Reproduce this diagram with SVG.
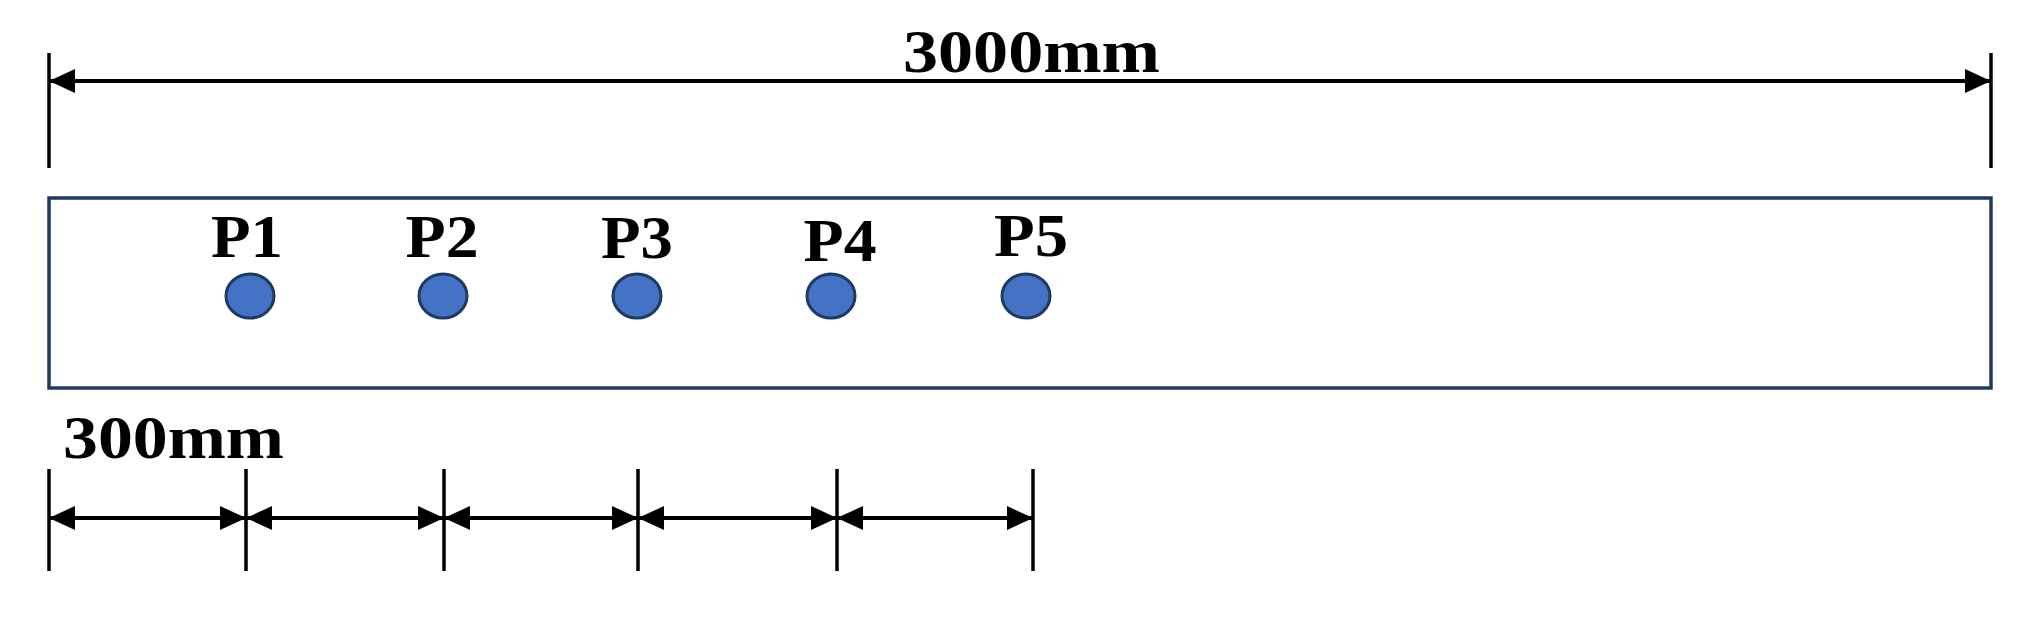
<svg xmlns="http://www.w3.org/2000/svg" width="2030" height="619" viewBox="0 0 2030 619">
  <style>
    .lbl { font-family: "Liberation Serif", "Times New Roman", serif; font-weight: bold; font-size: 62px; fill: #000; }
    .tick { stroke: #000; stroke-width: 3.5; fill: none; }
    .dim { stroke: #000; stroke-width: 4; fill: none; marker-start: url(#ah); marker-end: url(#ah); }
    .pt { fill: #4472C4; stroke: #1F3A60; stroke-width: 3; }
    .slab { fill: #fff; stroke: #1F3A60; stroke-width: 3.5; }
  </style>
  <defs>
    <marker id="ah" viewBox="0 0 26 24" refX="26" refY="12" markerWidth="26" markerHeight="24" markerUnits="userSpaceOnUse" orient="auto-start-reverse">
      <path d="M0,0 L26,12 L0,24 Z" fill="#000"/>
    </marker>
  </defs>
  <rect width="2030" height="619" fill="#fff"/>

  <g id="slab">
    <rect class="slab" x="49" y="198" width="1942" height="190"/>
  </g>

  <g id="P1">
    <text class="lbl" x="247" y="257" text-anchor="middle" textLength="72" lengthAdjust="spacingAndGlyphs">P1</text>
    <ellipse class="pt" cx="250" cy="296" rx="24" ry="22"/>
  </g>
  <g id="P2">
    <text class="lbl" x="442" y="257" text-anchor="middle" textLength="73" lengthAdjust="spacingAndGlyphs">P2</text>
    <ellipse class="pt" cx="443" cy="296" rx="24" ry="22"/>
  </g>
  <g id="P3">
    <text class="lbl" x="637" y="258" text-anchor="middle" textLength="72" lengthAdjust="spacingAndGlyphs">P3</text>
    <ellipse class="pt" cx="637" cy="296" rx="24" ry="22"/>
  </g>
  <g id="P4">
    <text class="lbl" x="840" y="261" text-anchor="middle" textLength="73" lengthAdjust="spacingAndGlyphs">P4</text>
    <ellipse class="pt" cx="831" cy="296" rx="24" ry="22"/>
  </g>
  <g id="P5">
    <text class="lbl" x="1031" y="256" text-anchor="middle" textLength="74" lengthAdjust="spacingAndGlyphs">P5</text>
    <ellipse class="pt" cx="1026" cy="296" rx="24" ry="22"/>
  </g>

  <g id="connectors">
    <line class="tick" x1="49" y1="53" x2="49" y2="168"/>
    <line class="tick" x1="1991" y1="53" x2="1991" y2="168"/>
    <line class="dim" x1="49" y1="81" x2="1991" y2="81"/>

    <line class="tick" x1="49" y1="469" x2="49" y2="571"/>
    <line class="tick" x1="246" y1="469" x2="246" y2="571"/>
    <line class="tick" x1="444" y1="469" x2="444" y2="571"/>
    <line class="tick" x1="638" y1="469" x2="638" y2="571"/>
    <line class="tick" x1="837" y1="469" x2="837" y2="571"/>
    <line class="tick" x1="1033" y1="469" x2="1033" y2="571"/>
    <line class="dim" x1="49" y1="518" x2="246" y2="518"/>
    <line class="dim" x1="246" y1="518" x2="444" y2="518"/>
    <line class="dim" x1="444" y1="518" x2="638" y2="518"/>
    <line class="dim" x1="638" y1="518" x2="837" y2="518"/>
    <line class="dim" x1="837" y1="518" x2="1033" y2="518"/>
  </g>

  <g id="labels">
    <text class="lbl" x="903" y="72" textLength="257" lengthAdjust="spacingAndGlyphs">3000mm</text>
    <text class="lbl" x="63" y="458" textLength="221" lengthAdjust="spacingAndGlyphs">300mm</text>
  </g>
</svg>
